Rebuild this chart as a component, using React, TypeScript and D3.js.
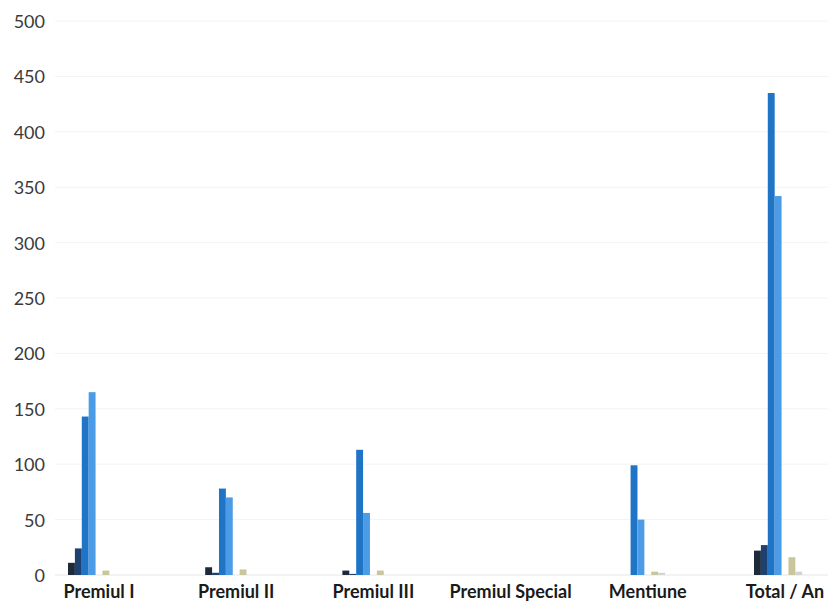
import React from "react";
import * as d3 from "d3";

// Award categories along the x axis
const categories = ["Premiul I", "Premiul II", "Premiul III", "Premiul Special", "Mentiune", "Total / An"];

// One value per category for each series
const seriesA = [11, 7, 4, 0, 0, 22];
const seriesB = [24, 2, 1, 0, 0, 27];
const seriesC = [143, 78, 113, 0, 99, 435];
const seriesD = [165, 70, 56, 0, 50, 342];
const seriesE = [0, 0, 0, 0, 0, 0];
const seriesF = [4, 5, 4, 0, 3, 16];
const seriesG = [0, 0, 0, 0, 2, 3];
const seriesH = [0, 0, 0, 0, 0, 0];
const seriesI = [0, 0, 0, 0, 0, 0];

const yTicks = [0, 50, 100, 150, 200, 250, 300, 350, 400, 450, 500];

const seriesList = [
  { key: "A", values: seriesA, color: "#1d2a3a" },
  { key: "B", values: seriesB, color: "#1f4170" },
  { key: "C", values: seriesC, color: "#1f74c6" },
  { key: "D", values: seriesD, color: "#4b9be6" },
  { key: "E", values: seriesE, color: "#9aa7b5" },
  { key: "F", values: seriesF, color: "#c9c59c" },
  { key: "G", values: seriesG, color: "#d4d4cc" },
  { key: "H", values: seriesH, color: "#b8c4d0" },
  { key: "I", values: seriesI, color: "#dcdcdc" },
];

const W = 828;
const H = 603;

export default function App() {
  const y = d3.scaleLinear().domain([0, 500]).range([575, 21]);
  const x = d3.scaleBand<string>().domain(categories).range([29.4, 852.6]).padding(0);
  const groupWidth = 62;
  const inner = d3
    .scaleBand<string>()
    .domain(seriesList.map((s) => s.key))
    .range([0, groupWidth])
    .padding(0);

  const font = "Lato, 'Open Sans', sans-serif";

  return (
    <svg width={W} height={H} style={{ position: "absolute", left: 0, top: 0, background: "#fff" }}>
      {yTicks.map((t) => (
        <g key={t}>
          {t > 0 && (
            <line x1={55} x2={W} y1={y(t)} y2={y(t)} stroke="#f3f3f3" strokeWidth={1} />
          )}
          <text
            x={45}
            y={y(t)}
            textAnchor="end"
            dominantBaseline="central"
            fontFamily={font}
            fontSize={18}
            fill="#3a3a3a"
          >
            {t}
          </text>
        </g>
      ))}
      <line x1={55} x2={W} y1={y(0)} y2={y(0)} stroke="#e6e6e6" strokeWidth={1} />
      {categories.map((c, i) => {
        const cx = (x(c) ?? 0) + x.bandwidth() / 2;
        const gx = cx - groupWidth / 2 + 1;
        return (
          <g key={c}>
            {seriesList.map((s) => {
              const v = s.values[i];
              if (v <= 0) return null;
              return (
                <rect
                  key={s.key}
                  x={gx + (inner(s.key) ?? 0)}
                  y={y(v)}
                  width={inner.bandwidth()}
                  height={y(0) - y(v)}
                  fill={s.color}
                />
              );
            })}
            <text
              x={cx + 1}
              y={591}
              textAnchor="middle"
              dominantBaseline="central"
              fontFamily={font}
              fontWeight={700}
              fontSize={18}
              fill="#1a1a1a"
            >
              {c}
            </text>
          </g>
        );
      })}
    </svg>
  );
}
